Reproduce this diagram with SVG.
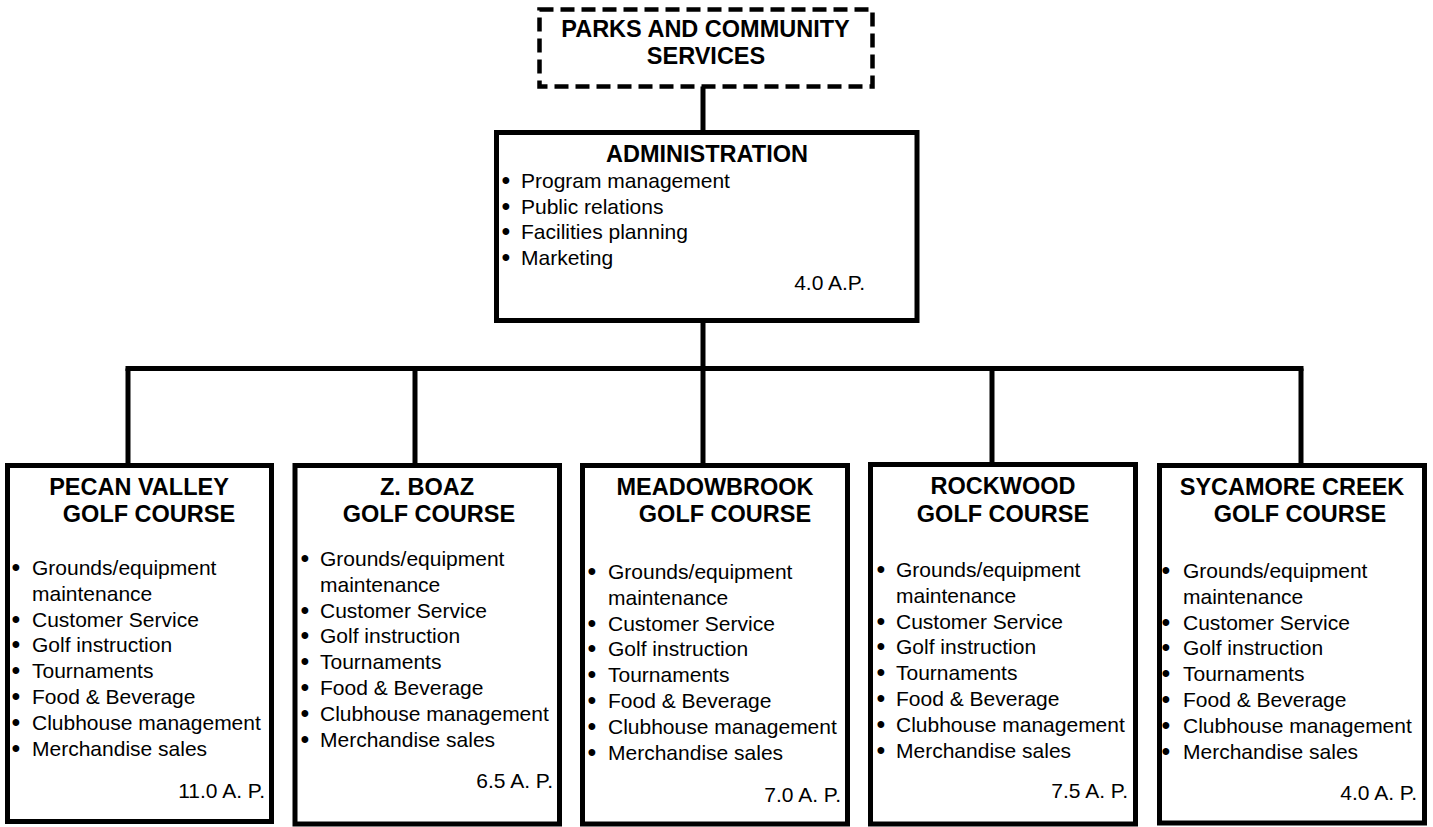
<svg xmlns="http://www.w3.org/2000/svg" width="1433" height="827" viewBox="0 0 1433 827">
<style>
.box{fill:#fff;stroke:#000;stroke-width:5}
.dash{fill:#fff;stroke:#000;stroke-width:4.5;stroke-dasharray:14 7}
.ln{stroke:#000;stroke-width:5;fill:none}
.t{font-family:"Liberation Sans",Arial,sans-serif;font-weight:bold;font-size:23.5px;fill:#000;text-anchor:middle}
.b{font-family:"Liberation Sans",Arial,sans-serif;font-size:21px;fill:#000}
.bu{font-family:"Liberation Sans",Arial,sans-serif;font-size:25px;fill:#000;text-anchor:middle}
.ap{font-family:"Liberation Sans",Arial,sans-serif;font-size:21px;fill:#000;text-anchor:end}
</style>
<rect width="1433" height="827" fill="#fff"/>
<g id="connectors">
<line class="ln" x1="703" y1="86" x2="703" y2="132"/>
<line class="ln" x1="703" y1="320" x2="703" y2="369"/>
<line class="ln" x1="125.5" y1="368.5" x2="1303.5" y2="368.5"/>
<line class="ln" x1="128" y1="368.5" x2="128" y2="465"/>
<line class="ln" x1="415" y1="368.5" x2="415" y2="465"/>
<line class="ln" x1="703" y1="368.5" x2="703" y2="465"/>
<line class="ln" x1="992" y1="368.5" x2="992" y2="465"/>
<line class="ln" x1="1301" y1="368.5" x2="1301" y2="465"/>
</g>
<g id="parks">
<rect class="dash" x="539.5" y="9.5" width="333" height="77"/>
<text class="t" x="705.5" y="36.5">PARKS AND COMMUNITY</text>
<text class="t" x="706" y="64">SERVICES</text>
</g>
<g id="administration">
<rect class="box" x="496.5" y="132.5" width="420.5" height="188"/>
<text class="t" x="707" y="162">ADMINISTRATION</text>
<text class="bu" x="506" y="189">•</text><text class="b" x="521" y="188">Program management</text>
<text class="bu" x="506" y="214.5">•</text><text class="b" x="521" y="213.5">Public relations</text>
<text class="bu" x="506" y="240">•</text><text class="b" x="521" y="239">Facilities planning</text>
<text class="bu" x="506" y="265.5">•</text><text class="b" x="521" y="264.5">Marketing</text>
<text class="ap" x="865" y="290">4.0 A.P.</text>
</g>
<g id="pecan-valley">
<rect class="box" x="7.5" y="465.5" width="264" height="356"/>
<text class="t" x="139" y="495">PECAN VALLEY</text>
<text class="t" x="149" y="522">GOLF COURSE</text>
<g transform="translate(0,575)">
<text class="bu" x="16" y="1">•</text><text class="b" x="32" y="0">Grounds/equipment</text>
<text class="b" x="32" y="25.8">maintenance</text>
<text class="bu" x="16" y="52.6">•</text><text class="b" x="32" y="51.6">Customer Service</text>
<text class="bu" x="16" y="78.4">•</text><text class="b" x="32" y="77.4">Golf instruction</text>
<text class="bu" x="16" y="104.2">•</text><text class="b" x="32" y="103.2">Tournaments</text>
<text class="bu" x="16" y="130">•</text><text class="b" x="32" y="129">Food &amp; Beverage</text>
<text class="bu" x="16" y="155.8">•</text><text class="b" x="32" y="154.8">Clubhouse management</text>
<text class="bu" x="16" y="181.6">•</text><text class="b" x="32" y="180.6">Merchandise sales</text>
</g>
<text class="ap" x="265" y="798">11.0 A. P.</text>
</g>
<g id="z-boaz">
<rect class="box" x="295" y="465.5" width="264.5" height="358.5"/>
<text class="t" x="427" y="495">Z. BOAZ</text>
<text class="t" x="429" y="522">GOLF COURSE</text>
<g transform="translate(0,566)">
<text class="bu" x="305" y="1">•</text><text class="b" x="320" y="0">Grounds/equipment</text>
<text class="b" x="320" y="25.8">maintenance</text>
<text class="bu" x="305" y="52.6">•</text><text class="b" x="320" y="51.6">Customer Service</text>
<text class="bu" x="305" y="78.4">•</text><text class="b" x="320" y="77.4">Golf instruction</text>
<text class="bu" x="305" y="104.2">•</text><text class="b" x="320" y="103.2">Tournaments</text>
<text class="bu" x="305" y="130">•</text><text class="b" x="320" y="129">Food &amp; Beverage</text>
<text class="bu" x="305" y="155.8">•</text><text class="b" x="320" y="154.8">Clubhouse management</text>
<text class="bu" x="305" y="181.6">•</text><text class="b" x="320" y="180.6">Merchandise sales</text>
</g>
<text class="ap" x="553" y="788">6.5 A. P.</text>
</g>
<g id="meadowbrook">
<rect class="box" x="582.5" y="465.5" width="265" height="358.5"/>
<text class="t" x="715" y="495">MEADOWBROOK</text>
<text class="t" x="725" y="522">GOLF COURSE</text>
<g transform="translate(0,579)">
<text class="bu" x="592" y="1">•</text><text class="b" x="608" y="0">Grounds/equipment</text>
<text class="b" x="608" y="25.8">maintenance</text>
<text class="bu" x="592" y="52.6">•</text><text class="b" x="608" y="51.6">Customer Service</text>
<text class="bu" x="592" y="78.4">•</text><text class="b" x="608" y="77.4">Golf instruction</text>
<text class="bu" x="592" y="104.2">•</text><text class="b" x="608" y="103.2">Tournaments</text>
<text class="bu" x="592" y="130">•</text><text class="b" x="608" y="129">Food &amp; Beverage</text>
<text class="bu" x="592" y="155.8">•</text><text class="b" x="608" y="154.8">Clubhouse management</text>
<text class="bu" x="592" y="181.6">•</text><text class="b" x="608" y="180.6">Merchandise sales</text>
</g>
<text class="ap" x="841" y="802">7.0 A. P.</text>
</g>
<g id="rockwood">
<rect class="box" x="870.5" y="464.5" width="265" height="359.5"/>
<text class="t" x="1003" y="494">ROCKWOOD</text>
<text class="t" x="1003" y="522">GOLF COURSE</text>
<g transform="translate(0,577)">
<text class="bu" x="881" y="1">•</text><text class="b" x="896" y="0">Grounds/equipment</text>
<text class="b" x="896" y="25.8">maintenance</text>
<text class="bu" x="881" y="52.6">•</text><text class="b" x="896" y="51.6">Customer Service</text>
<text class="bu" x="881" y="78.4">•</text><text class="b" x="896" y="77.4">Golf instruction</text>
<text class="bu" x="881" y="104.2">•</text><text class="b" x="896" y="103.2">Tournaments</text>
<text class="bu" x="881" y="130">•</text><text class="b" x="896" y="129">Food &amp; Beverage</text>
<text class="bu" x="881" y="155.8">•</text><text class="b" x="896" y="154.8">Clubhouse management</text>
<text class="bu" x="881" y="181.6">•</text><text class="b" x="896" y="180.6">Merchandise sales</text>
</g>
<text class="ap" x="1128" y="798">7.5 A. P.</text>
</g>
<g id="sycamore-creek">
<rect class="box" x="1159.5" y="465.5" width="265" height="357.5"/>
<text class="t" x="1292" y="495">SYCAMORE CREEK</text>
<text class="t" x="1300" y="522">GOLF COURSE</text>
<g transform="translate(0,578)">
<text class="bu" x="1166" y="1">•</text><text class="b" x="1183" y="0">Grounds/equipment</text>
<text class="b" x="1183" y="25.8">maintenance</text>
<text class="bu" x="1166" y="52.6">•</text><text class="b" x="1183" y="51.6">Customer Service</text>
<text class="bu" x="1166" y="78.4">•</text><text class="b" x="1183" y="77.4">Golf instruction</text>
<text class="bu" x="1166" y="104.2">•</text><text class="b" x="1183" y="103.2">Tournaments</text>
<text class="bu" x="1166" y="130">•</text><text class="b" x="1183" y="129">Food &amp; Beverage</text>
<text class="bu" x="1166" y="155.8">•</text><text class="b" x="1183" y="154.8">Clubhouse management</text>
<text class="bu" x="1166" y="181.6">•</text><text class="b" x="1183" y="180.6">Merchandise sales</text>
</g>
<text class="ap" x="1417" y="800">4.0 A. P.</text>
</g>
</svg>
